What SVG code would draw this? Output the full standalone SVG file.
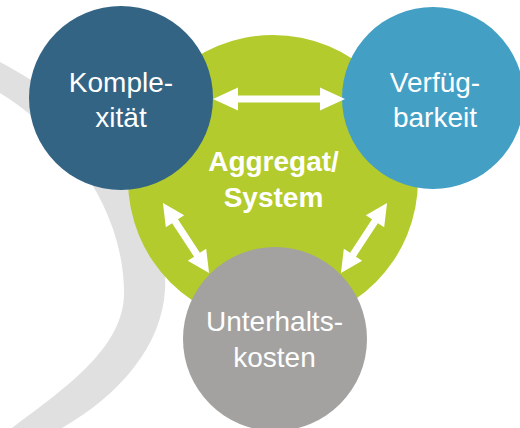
<svg xmlns="http://www.w3.org/2000/svg" width="520" height="428" viewBox="0 0 520 428">
<style>
.lbl{font-family:"Liberation Sans",Arial,sans-serif;font-size:28px;fill:#ffffff;text-anchor:middle}
.bold{font-weight:bold}
.arr{fill:#ffffff}
</style>
<rect width="520" height="428" fill="#ffffff"/>
<path id="band" d="M0,62 C90,110 170,190 165,290 C162,345 120,395 62,428 L12,428 C70,385 126,345 124,290 C122,200 60,130 0,93 Z" fill="#e0e0e0"/>
<g id="aggregat">
<circle cx="273" cy="180" r="145" fill="#b3cb2d"/>
<text class="lbl bold" x="273.5" y="171">Aggregat/</text>
<text class="lbl bold" x="273.5" y="207">System</text>
</g>
<g id="unterhaltskosten">
<circle cx="275" cy="339" r="92" fill="#a3a2a0"/>
<text class="lbl" x="274.5" y="331">Unterhalts-</text>
<text class="lbl" x="274.5" y="367">kosten</text>
</g>
<g id="komplexitaet">
<circle cx="121" cy="98" r="92" fill="#336484"/>
<text class="lbl" x="121" y="92">Komple-</text>
<text class="lbl" x="121" y="127">xität</text>
</g>
<g id="verfuegbarkeit">
<circle cx="433" cy="98" r="91" fill="#449fc5"/>
<text class="lbl" x="435" y="92">Verfüg-</text>
<text class="lbl" x="435" y="127">barkeit</text>
</g>
<g id="connectors">
<path class="arr" transform="translate(279,99)" d="M-66,0 L-41,-11.5 L-41,-3.5 L41,-3.5 L41,-11.5 L66,0 L41,11.5 L41,3.5 L-41,3.5 L-41,11.5 Z"/>
<path class="arr" transform="translate(186,238) rotate(56.7)" d="M-42,0 L-20,-11 L-20,-3.5 L20,-3.5 L20,-11 L42,0 L20,11 L20,3.5 L-20,3.5 L-20,11 Z"/>
<path class="arr" transform="translate(364,238) rotate(123.3)" d="M-42,0 L-20,-11 L-20,-3.5 L20,-3.5 L20,-11 L42,0 L20,11 L20,3.5 L-20,3.5 L-20,11 Z"/>
</g>
</svg>
